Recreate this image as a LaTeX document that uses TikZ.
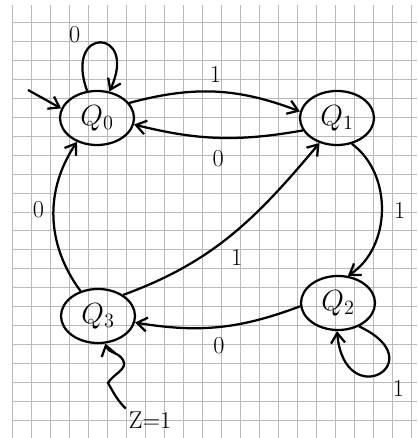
\documentclass[tikz,border=0pt]{standalone}
\usetikzlibrary{shapes.geometric,arrows.meta}

\tikzset{
  fsmstate/.style={ellipse, draw, line width=1.6pt, minimum width=1.85cm, minimum height=1.35cm, inner sep=0pt, font=\huge},
  fsmedge/.style={line width=1.6pt, -{Straight Barb[length=2.5mm,width=3.5mm]}},
  fsmlabel/.style={font=\LARGE, inner sep=2pt},
  gridline/.style={line width=.4pt, gray!55}
}

\begin{document}
\begin{tikzpicture}[x=0.025cm, y=0.025cm]
\useasboundingbox (0,0) rectangle (417,438);
\foreach \i in {0,...,21} \draw[gridline] ({12+19*\i},0) -- ({12+19*\i},433);
\foreach \j in {0,...,21} \draw[gridline] (12,{438-22.3-18.95*\j}) -- (417,{438-22.3-18.95*\j});

\node[fsmstate] (q0) at (97,320) {$Q_0$};
\node[fsmstate] (q1) at (337,320) {$Q_1$};
\node[fsmstate] (q2) at (338,135) {$Q_2$};
\node[fsmstate] (q3) at (98,122) {$Q_3$};

\coordinate (init) at (28,348);
\node[fsmlabel] (zout) at (150,18) {Z=1};
\coordinate (w1) at (108,55);
\coordinate (w2) at (123,78);

\draw[fsmedge] (init) -- (q0.165);
\draw[fsmedge] (q0.110) to[out=110,in=65,min distance=1.75cm] node[fsmlabel, pos=0.3, above left=2pt] {0} (q0.65);
\draw[fsmedge] (q0.25) to[bend left=18] node[fsmlabel, above=4pt] {1} (q1.170);
\draw[fsmedge] (q1.200) to[bend left=12] node[fsmlabel, below=6pt] {0} (q0.350);
\draw[fsmedge] (q1.300) to[bend left=55] node[fsmlabel, right=6pt] {1} (q2.70);
\draw[fsmedge] (q2.312) to[out=-25,in=-85,min distance=2.1cm] node[fsmlabel, pos=0.45, below right=4pt] {1} (q2.268);
\draw[fsmedge] (q2.185) to[bend left=15] node[fsmlabel, below=5pt] {0} (q3.350);
\draw[fsmedge] (q3.40) to[out=20,in=230] node[fsmlabel, pos=0.45, below right=3pt] {1} (q1.235);
\draw[fsmedge] (q3.125) to[bend left=35] node[fsmlabel, pos=0.55, left=4pt] {0} (q0.230);
\draw[fsmedge] (zout.north west) to[out=135,in=-60] (w1) to[out=60,in=-60] (w2) to[out=120,in=-75] (q3.285);
\end{tikzpicture}
\end{document}
